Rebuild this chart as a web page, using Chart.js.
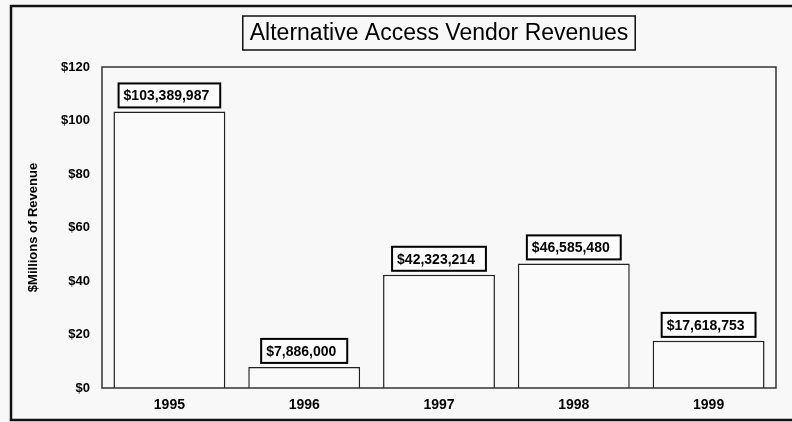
<!DOCTYPE html>
<html>
<head>
<meta charset="utf-8">
<script src="https://cdn.jsdelivr.net/npm/chart.js@4/dist/chart.umd.min.js"></script>
<style>
	html, body { margin: 0; padding: 0; background: #f8f8f8; }
	#wrap { width: 792px; height: 422px; }
</style>
</head>
<body>
<div id="wrap"><canvas id="chart" width="792" height="422"></canvas></div>
<script>
// Données du graphique (millions de dollars)
const years = ["1995", "1996", "1997", "1998", "1999"];
const revenues = [103.389987, 7.886, 42.323214, 46.58548, 17.618753];
const yTicks = [0, 20, 40, 60, 80, 100, 120];

const TITLE = "Alternative Access Vendor Revenues";
const FONT = "Arial, 'Liberation Sans', sans-serif";

// Fond + cadre extérieur + cadre du titre
const framePlugin = {
	id: "frame",
	beforeDraw(chart) {
		const ctx = chart.ctx;
		ctx.save();
		ctx.fillStyle = "#f8f8f8";
		ctx.fillRect(0, 0, chart.width, chart.height);
		ctx.restore();
	},
	afterDraw(chart) {
		const ctx = chart.ctx;
		const area = chart.chartArea;
		ctx.save();
		// cadre extérieur (coupé à droite comme sur l'original)
		ctx.strokeStyle = "#111";
		ctx.lineWidth = 2.5;
		ctx.strokeRect(11, 6, 800, 414);
		// cadre de la zone de tracé
		ctx.lineWidth = 1.5;
		ctx.strokeStyle = "#333";
		ctx.strokeRect(area.left, area.top, area.right - area.left, area.bottom - area.top);
		// titre encadré
		ctx.font = "23px " + FONT;
		const w = ctx.measureText(TITLE).width;
		const cx = (area.left + area.right) / 2;
		ctx.fillStyle = "#f8f8f8";
		ctx.fillRect(cx - w / 2 - 7, 16, w + 14, 34);
		ctx.strokeStyle = "#111";
		ctx.strokeRect(cx - w / 2 - 7, 16, w + 14, 34);
		ctx.fillStyle = "#000";
		ctx.textAlign = "center";
		ctx.textBaseline = "middle";
		ctx.fillText(TITLE, cx, 34);
		ctx.restore();
	},
};

// Étiquettes de valeur encadrées au-dessus des barres
const valueLabels = {
	id: "valueLabels",
	afterDatasetsDraw(chart) {
		const ctx = chart.ctx;
		const meta = chart.getDatasetMeta(0);
		ctx.save();
		ctx.font = "bold 14px " + FONT;
		meta.data.forEach((bar, i) => {
			const txt = "$" + Math.round(revenues[i] * 1e6).toLocaleString("en-US");
			const w = ctx.measureText(txt).width + 16;
			const h = 24;
			const x = bar.x - w / 2;
			const y = bar.y - 4 - h;
			ctx.fillStyle = "#fcfcfc";
			ctx.fillRect(x, y, w, h);
			ctx.strokeStyle = "#000";
			ctx.lineWidth = 2;
			ctx.strokeRect(x, y, w, h);
			ctx.fillStyle = "#000";
			ctx.textAlign = "left";
			ctx.textBaseline = "middle";
			ctx.fillText(txt, x + 5, y + h / 2 + 1);
		});
		ctx.restore();
	},
};

new Chart(document.getElementById("chart"), {
	type: "bar",
	data: {
		labels: years,
		datasets: [
			{
				data: revenues,
				backgroundColor: "#fafafa",
				borderColor: "#222",
				borderWidth: 1.5,
				categoryPercentage: 0.83,
				barPercentage: 1,
			},
		],
	},
	options: {
		responsive: false,
		animation: false,
		devicePixelRatio: 1,
		layout: { padding: { left: 10, top: 67, right: 16, bottom: 0 } },
		plugins: {
			legend: { display: false },
			tooltip: { enabled: false },
		},
		scales: {
			x: {
				grid: { display: false, drawTicks: false },
				border: { display: false },
				ticks: {
					color: "#000",
					font: { family: FONT, size: 14, weight: "bold" },
					padding: 9,
				},
				afterFit(scale) {
					scale.height = 34;
				},
			},
			y: {
				min: 0,
				max: 120,
				grid: { display: false, drawTicks: false },
				border: { display: false },
				afterBuildTicks(scale) {
					scale.ticks = yTicks.map((v) => ({ value: v }));
				},
				ticks: {
					color: "#000",
					font: { family: FONT, size: 13, weight: "bold" },
					padding: 12,
					callback: (v) => "$" + v,
				},
				title: {
					display: true,
					text: "$Millions of Revenue",
					color: "#000",
					font: { family: FONT, size: 13, weight: "bold" },
					padding: { top: 16, bottom: 0 },
				},
				afterFit(scale) {
					scale.width = 92;
				},
			},
		},
	},
	plugins: [framePlugin, valueLabels],
});
</script>
</body>
</html>
